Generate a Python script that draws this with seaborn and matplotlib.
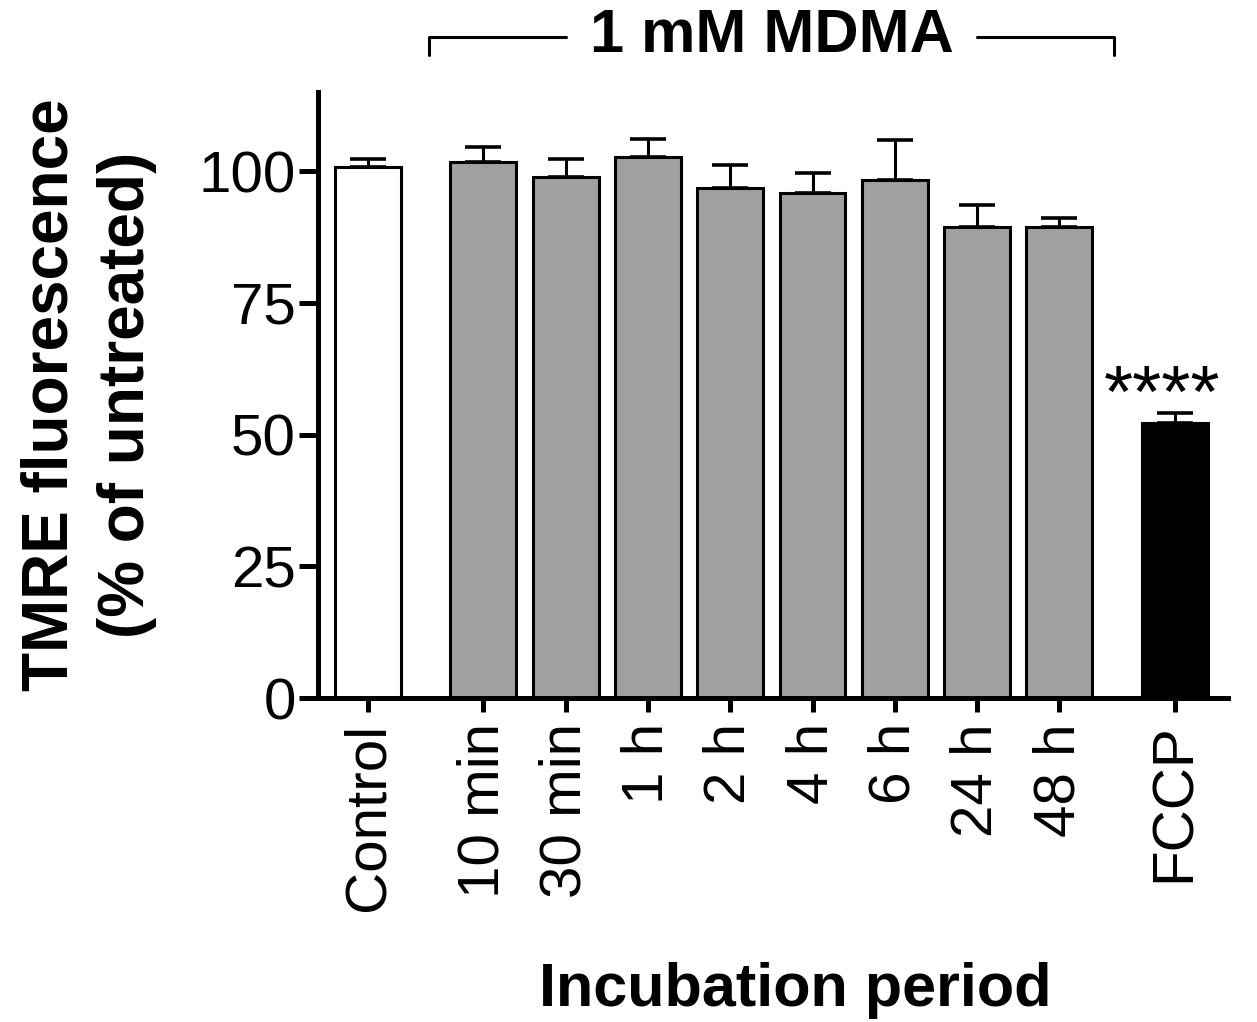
import numpy as np
import pandas as pd
import matplotlib
matplotlib.use("Agg")
import matplotlib.pyplot as plt
import matplotlib.transforms as mtransforms
import seaborn as sns

# values
LABELS = ["Control", "10 min", "30 min", "1 h", "2 h", "4 h", "6 h", "24 h", "48 h", "FCCP"]
MEANS = [100.7, 101.8, 98.8, 102.7, 96.8, 95.9, 98.3, 89.3, 89.3, 52.2]
SEMS = [1.6, 2.8, 3.4, 3.4, 4.3, 3.8, 7.6, 4.2, 1.8, 1.9]
GROUPS = ["control", "mdma", "mdma", "mdma", "mdma", "mdma", "mdma", "mdma", "mdma", "fccp"]
POSITIONS = [0, 1.4, 2.4, 3.4, 4.4, 5.4, 6.4, 7.4, 8.4, 9.8]
COLORS = {"control": "white", "mdma": "#a0a0a0", "fccp": "black"}

sns.set_style("ticks")
plt.rcParams["font.family"] = ["Liberation Sans", "DejaVu Sans"]
for key in ["text.color", "axes.labelcolor", "xtick.color", "ytick.color", "axes.edgecolor"]:
    plt.rcParams[key] = "black"

df = pd.DataFrame({"pos": POSITIONS, "label": LABELS, "mean": MEANS,
                   "sem": SEMS, "group": GROUPS})

fig = plt.figure(figsize=(12.57, 10.22), dpi=100)
ax = fig.add_axes([0.253, 0.317, 0.724, 0.593])

sns.barplot(data=df, x="pos", y="mean", hue="group", palette=COLORS,
            native_scale=True, width=0.8, errorbar=None, legend=False,
            edgecolor="black", linewidth=2.2, ax=ax)

# upward-only error bars (mean + SEM)
ax.errorbar(df["pos"], df["mean"], yerr=[np.zeros(len(df)), df["sem"]],
            fmt="none", ecolor="black", elinewidth=2.2, capsize=13,
            capthick=2.6, zorder=1)

ax.set_xlim(-0.61, 10.45)
ax.set_ylim(0, 115)
ax.set_yticks([0, 25, 50, 75, 100])
ax.set_xticks(df["pos"])
ax.set_xticklabels(LABELS, rotation=90, fontsize=42)
ax.tick_params(axis="y", labelsize=42, length=14, width=3.6, pad=2)
ax.tick_params(axis="x", length=10, width=3.6, pad=8)
sns.despine(ax=ax)
for side in ["left", "bottom"]:
    ax.spines[side].set_linewidth(3.6)

ax.set_ylabel("TMRE fluorescence\n(% of untreated)", fontsize=46,
              fontweight="bold", labelpad=30, linespacing=1.35)
ax.set_xlabel("")
fig.text(795 / 1257, 1 - 990 / 1022, "Incubation period", fontsize=44,
         fontweight="bold", ha="center", va="center")

# significance marker over FCCP
fccp = df.iloc[-1]
ax.text(fccp["pos"] - 0.15, fccp["mean"] + fccp["sem"] - 3.6, "****",
        fontsize=54, ha="center", va="bottom")

# bracket for the MDMA group
trans = mtransforms.blended_transform_factory(ax.transData, fig.transFigure)
x0 = df["pos"].iloc[1] - 0.66
x1 = df["pos"].iloc[8] + 0.66
mid = (df["pos"].iloc[1] + df["pos"].iloc[8]) / 2
yb = 1 - 37 / 1022
yt = 1 - 55 / 1022
ax.plot([x0, x0, mid - 2.5], [yt, yb, yb], color="black", lw=2.2,
        transform=trans, clip_on=False)
ax.plot([mid + 2.5, x1, x1], [yb, yb, yt], color="black", lw=2.2,
        transform=trans, clip_on=False)
ax.text(mid, 1 - 36 / 1022, "1 mM MDMA", transform=trans, fontsize=44,
        fontweight="bold", ha="center", va="center")

fig.savefig("out.png", dpi=100)
